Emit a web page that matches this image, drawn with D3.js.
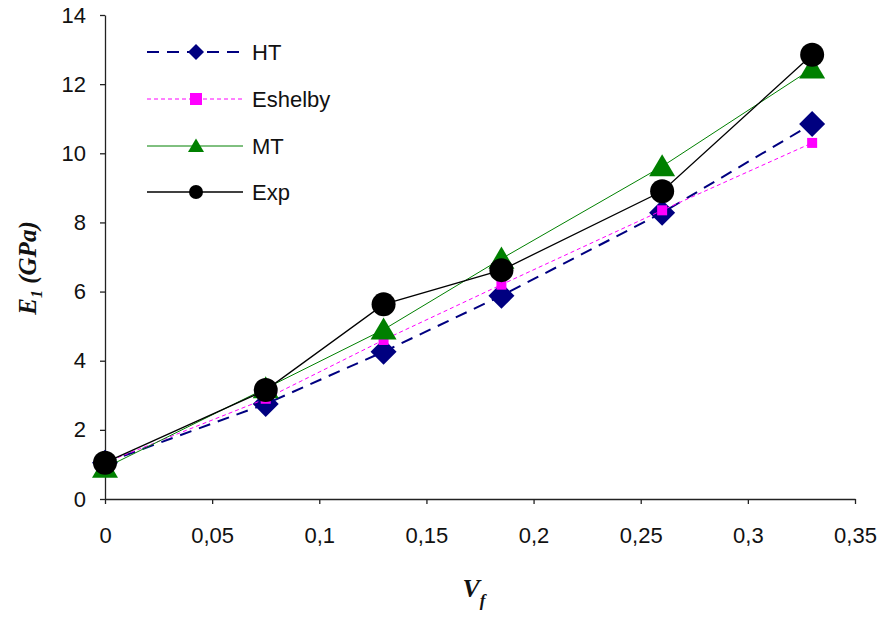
<!DOCTYPE html>
<html>
<head>
<meta charset="utf-8">
<script src="https://cdn.jsdelivr.net/npm/d3@7"></script>
<style>
  html, body { margin: 0; padding: 0; background: #fff; }
  svg { display: block; }
</style>
</head>
<body>
<svg id="chart" width="883" height="617"></svg>
<script>
// ---- data ----
const vf = [0, 0.075, 0.13, 0.185, 0.26, 0.33];
const htValues = [1.05, 2.75, 4.26, 5.88, 8.28, 10.85];
const eshelbyValues = [1.05, 2.9, 4.6, 6.2, 8.35, 10.3];
const mtValues = [0.9, 3.2, 4.9, 6.95, 9.62, 12.45];
const expValues = [1.05, 3.15, 5.63, 6.62, 8.9, 12.85];
const seriesNames = ["HT", "Eshelby", "MT", "Exp"];
const xTicks = [0, 0.05, 0.1, 0.15, 0.2, 0.25, 0.3, 0.35];
const xTickLabels = ["0", "0,05", "0,1", "0,15", "0,2", "0,25", "0,3", "0,35"];
const yTicks = [0, 2, 4, 6, 8, 10, 12, 14];
const yTickLabels = ["0", "2", "4", "6", "8", "10", "12", "14"];

(function () {
// ---- layout ----
const svg = d3.select("#chart");
const mLeft = 105, mRight = 855, mTop = 15, mBottom = 499;
const x = d3.scaleLinear().domain([0, 0.35]).range([mLeft, mRight]);
const y = d3.scaleLinear().domain([0, 14]).range([mBottom, mTop]);

const styles = {
  HT:      { color: "#000080", fill: "#000080", width: 2,   dash: "12,8", marker: "diamond" },
  Eshelby: { color: "#ff00ff", fill: "#ff00ff", width: 1,   dash: "4,3",  marker: "square" },
  MT:      { color: "#008000", fill: "#008000", width: 1,   dash: null,   marker: "triangle" },
  Exp:     { color: "#000000", fill: "#000000", width: 1.3, dash: null,   marker: "circle" }
};
const values = { HT: htValues, Eshelby: eshelbyValues, MT: mtValues, Exp: expValues };

// ---- axes ----
const fontAxis = "'Liberation Sans', Arial, sans-serif";
const xAxis = d3.axisBottom(x).tickValues(xTicks)
  .tickFormat((d, i) => xTickLabels[i]).tickSize(5).tickPadding(23).tickSizeOuter(0);
const yAxis = d3.axisLeft(y).tickValues(yTicks)
  .tickFormat((d, i) => yTickLabels[i]).tickSize(5).tickPadding(14).tickSizeOuter(0);

const gx = svg.append("g").attr("transform", `translate(0,${mBottom})`).call(xAxis);
const gy = svg.append("g").attr("transform", `translate(${mLeft},0)`).call(yAxis);
[gx, gy].forEach(g => {
  g.selectAll("path, line").attr("stroke", "#222").attr("stroke-width", 1.3);
  g.selectAll("text").attr("font-family", fontAxis).attr("font-size", 22).attr("fill", "#111");
});

// axis titles
const yl = svg.append("text")
  .attr("transform", "translate(36,268) rotate(-90)")
  .attr("text-anchor", "middle")
  .attr("font-family", "'Liberation Serif', 'Times New Roman', serif")
  .attr("font-style", "italic").attr("font-weight", "bold")
  .attr("font-size", 25).attr("fill", "#111");
yl.append("tspan").text("E");
yl.append("tspan").attr("font-size", 16).attr("dy", 6).text("1");
yl.append("tspan").attr("dy", -6).text(" (GPa)");

const xl = svg.append("text")
  .attr("x", 474).attr("y", 597)
  .attr("text-anchor", "middle")
  .attr("font-family", "'Liberation Serif', 'Times New Roman', serif")
  .attr("font-style", "italic").attr("font-weight", "bold")
  .attr("font-size", 26).attr("fill", "#111");
xl.append("tspan").text("V");
xl.append("tspan").attr("font-size", 17).attr("dy", 9).text("f");

// ---- marker drawing ----
function drawMarker(g, type, cx, cy, s, fill) {
  if (type === "diamond") {
    g.append("path").attr("d", `M${cx},${cy - s}L${cx + s},${cy}L${cx},${cy + s}L${cx - s},${cy}Z`)
      .attr("fill", fill);
  } else if (type === "square") {
    g.append("rect").attr("x", cx - s).attr("y", cy - s).attr("width", 2 * s).attr("height", 2 * s)
      .attr("fill", fill);
  } else if (type === "triangle") {
    const h = s * 1.7;
    g.append("path").attr("d", `M${cx},${cy - h * 0.55}L${cx + s},${cy + h * 0.45}L${cx - s},${cy + h * 0.45}Z`)
      .attr("fill", fill);
  } else {
    g.append("circle").attr("cx", cx).attr("cy", cy).attr("r", s).attr("fill", fill);
  }
}
const plotSize = { diamond: 13, square: 5, triangle: 13, circle: 12 };
const legendSize = { diamond: 8, square: 6, triangle: 8, circle: 7 };

// ---- series ----
const line = d3.line().x((d, i) => x(vf[i])).y(d => y(d));
seriesNames.forEach(name => {
  const st = styles[name];
  const g = svg.append("g");
  g.append("path").attr("d", line(values[name]))
    .attr("fill", "none").attr("stroke", st.color).attr("stroke-width", st.width)
    .attr("stroke-dasharray", st.dash);
  values[name].forEach((v, i) => drawMarker(g, st.marker, x(vf[i]), y(v), plotSize[st.marker], st.fill));
});

// ---- legend ----
const legendY = [52, 99, 146, 192];
seriesNames.forEach((name, i) => {
  const st = styles[name];
  const g = svg.append("g");
  g.append("line").attr("x1", 147).attr("x2", 243).attr("y1", legendY[i]).attr("y2", legendY[i])
    .attr("stroke", st.color).attr("stroke-width", st.width).attr("stroke-dasharray", st.dash);
  drawMarker(g, st.marker, 196, legendY[i], legendSize[st.marker], st.fill);
  g.append("text").attr("x", 252).attr("y", legendY[i] + 8)
    .attr("font-family", fontAxis).attr("font-size", 22).attr("fill", "#111").text(name);
});
})();
</script>
</body>
</html>
